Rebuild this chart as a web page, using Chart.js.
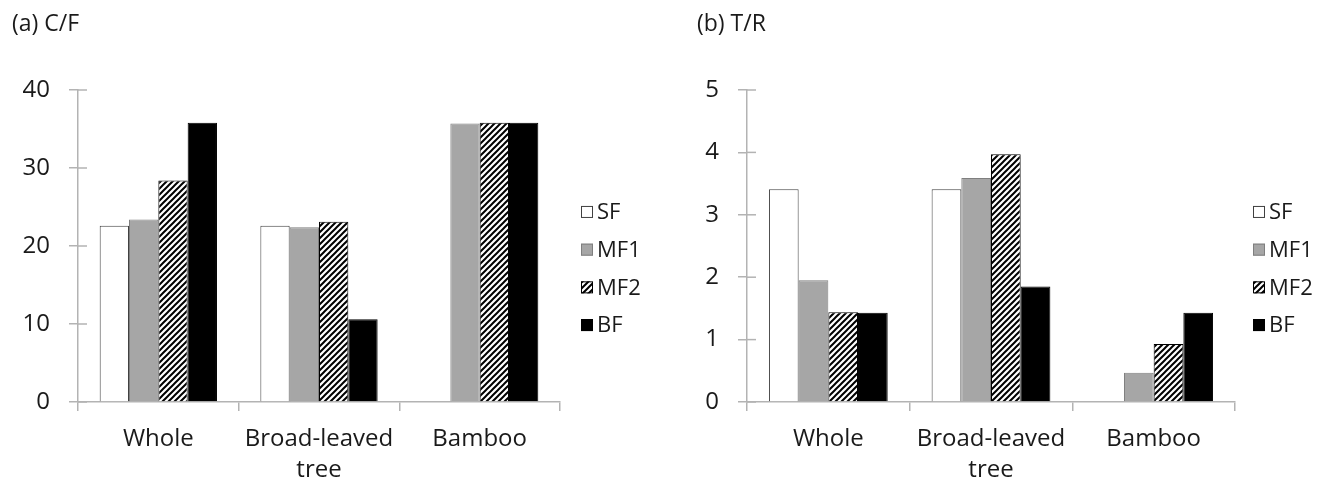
<!DOCTYPE html>
<html>
<head>
<meta charset="utf-8">
<script src="https://cdn.jsdelivr.net/npm/chart.js@4.4.1/dist/chart.umd.min.js"></script>
<style>
    body { margin: 0; background: #fff; width: 1333px; height: 488px; overflow: hidden; position: relative; font-family: "Open Sans", sans-serif; }
    .panel { position: absolute; top: 0; }
    .title { position: absolute; top: 11px; font-size: 23px; line-height: 23px; color: #1a1a1a; }
</style>
</head>
<body>
<canvas id="chartA" class="panel" width="666" height="488" style="left:0px"></canvas>
<canvas id="chartB" class="panel" width="666" height="488" style="left:667px"></canvas>
<div class="title" style="left:12px">(a) C/F</div>
<div class="title" style="left:697px">(b) T/R</div>

<script>
// DATA
const categories = ["Whole", ["Broad-leaved", "tree"], "Bamboo"];
const seriesNames = ["SF", "MF1", "MF2", "BF"];

const cfSF = [22.6, 22.6, null];
const cfMF1 = [23.4, 22.4, 35.7];
const cfMF2 = [28.4, 23.1, 35.8];
const cfBF = [35.8, 10.6, 35.8];

const trSF = [3.41, 3.41, null];
const trMF1 = [1.95, 3.59, 0.47];
const trMF2 = [1.44, 3.97, 0.93];
const trBF = [1.43, 1.85, 1.43];

const cfTicks = [0, 10, 20, 30, 40];
const trTicks = [0, 1, 2, 3, 4, 5];

const axisColor = "#b3b3b3";
const textColor = "#1a1a1a";
const fontFamily = "'Open Sans', sans-serif";

// diagonal hatch for MF2
function makeHatch(ctx) {
    const s = 6;
    const c = document.createElement("canvas");
    c.width = s;
    c.height = s;
    const g = c.getContext("2d");
    g.fillStyle = "#fff";
    g.fillRect(0, 0, s, s);
    g.strokeStyle = "#000";
    g.lineWidth = 2;
    g.beginPath();
    g.moveTo(0, s); g.lineTo(s, 0);
    g.moveTo(-1, 1); g.lineTo(1, -1);
    g.moveTo(s - 1, s + 1); g.lineTo(s + 1, s - 1);
    g.stroke();
    return ctx.createPattern(c, "repeat");
}

// inner half of the cross tick marks on the value axis
const crossTicks = {
    id: "crossTicks",
    afterDatasetsDraw(chart) {
        const y = chart.scales.y;
        const ctx = chart.ctx;
        ctx.save();
        ctx.strokeStyle = axisColor;
        ctx.lineWidth = 1.5;
        y.ticks.forEach(t => {
            const py = y.getPixelForValue(t.value);
            ctx.beginPath();
            ctx.moveTo(chart.chartArea.left, py);
            ctx.lineTo(chart.chartArea.left + 9, py);
            ctx.stroke();
        });
        ctx.restore();
    }
};

// legend drawn beside the plot
const sideLegend = {
    id: "sideLegend",
    afterDraw(chart) {
        const ctx = chart.ctx;
        const area = chart.chartArea;
        const x0 = area.right + chart.options.plugins.sideLegend.offset;
        const step = 37.7;
        const mid = (area.top + area.bottom) / 2 + 22.5;
        const n = chart.data.datasets.length;
        ctx.save();
        ctx.font = "22px " + fontFamily;
        ctx.textBaseline = "middle";
        chart.data.datasets.forEach((ds, i) => {
            const yc = mid + (i - (n - 1) / 2) * step;
            ctx.fillStyle = ds.backgroundColor;
            ctx.fillRect(x0, yc - 6, 12, 12);
            ctx.strokeStyle = ds.borderColor;
            ctx.lineWidth = 1;
            ctx.strokeRect(x0 + 0.5, yc - 5.5, 11, 11);
            ctx.fillStyle = textColor;
            ctx.fillText(ds.label, x0 + 16, yc + 1);
        });
        ctx.restore();
    }
};

function buildChart(id, values, yMax, yStep, yAxisWidth, padRight, legendOffset) {
    const canvas = document.getElementById(id);
    const ctx = canvas.getContext("2d");
    const hatch = makeHatch(ctx);

    const fills = ["#ffffff", "#a6a6a6", hatch, "#000000"];
    const borders = ["#404040", "#7f7f7f", "#000000", "#000000"];

    return new Chart(ctx, {
        type: "bar",
        data: {
            labels: categories,
            datasets: values.map((v, i) => ({
                label: seriesNames[i],
                data: v,
                backgroundColor: fills[i],
                borderColor: borders[i],
                borderWidth: 1,
                categoryPercentage: 0.73,
                barPercentage: 1.0
            }))
        },
        options: {
            responsive: false,
            animation: false,
            devicePixelRatio: 1,
            layout: { padding: { top: 90, right: padRight, bottom: 0, left: 0 } },
            plugins: {
                legend: { display: false },
                tooltip: { enabled: false },
                sideLegend: { offset: legendOffset }
            },
            scales: {
                x: {
                    grid: {
                        offset: true,
                        drawOnChartArea: false,
                        drawTicks: true,
                        tickLength: 9,
                        color: axisColor,
                        lineWidth: 1.5
                    },
                    border: { color: axisColor, width: 1.5 },
                    ticks: {
                        color: textColor,
                        padding: 13,
                        maxRotation: 0,
                        autoSkip: false,
                        font: { family: fontFamily, size: 24, lineHeight: 1.28 }
                    },
                    afterFit(scale) { scale.height = 86; }
                },
                y: {
                    min: 0,
                    max: yMax,
                    grid: {
                        drawOnChartArea: false,
                        drawTicks: true,
                        tickLength: 9,
                        color: axisColor,
                        lineWidth: 1.5
                    },
                    border: { color: axisColor, width: 1.5 },
                    ticks: {
                        stepSize: yStep,
                        color: textColor,
                        padding: 19,
                        font: { family: fontFamily, size: 24 }
                    },
                    afterFit(scale) { scale.width = yAxisWidth; }
                }
            }
        },
        plugins: [crossTicks, sideLegend]
    });
}

buildChart("chartA", [cfSF, cfMF1, cfMF2, cfBF], cfTicks[cfTicks.length - 1], cfTicks[1] - cfTicks[0], 78, 106, 21);
buildChart("chartB", [trSF, trMF1, trMF2, trBF], trTicks[trTicks.length - 1], trTicks[1] - trTicks[0], 80, 98, 18);
</script>
</body>
</html>
